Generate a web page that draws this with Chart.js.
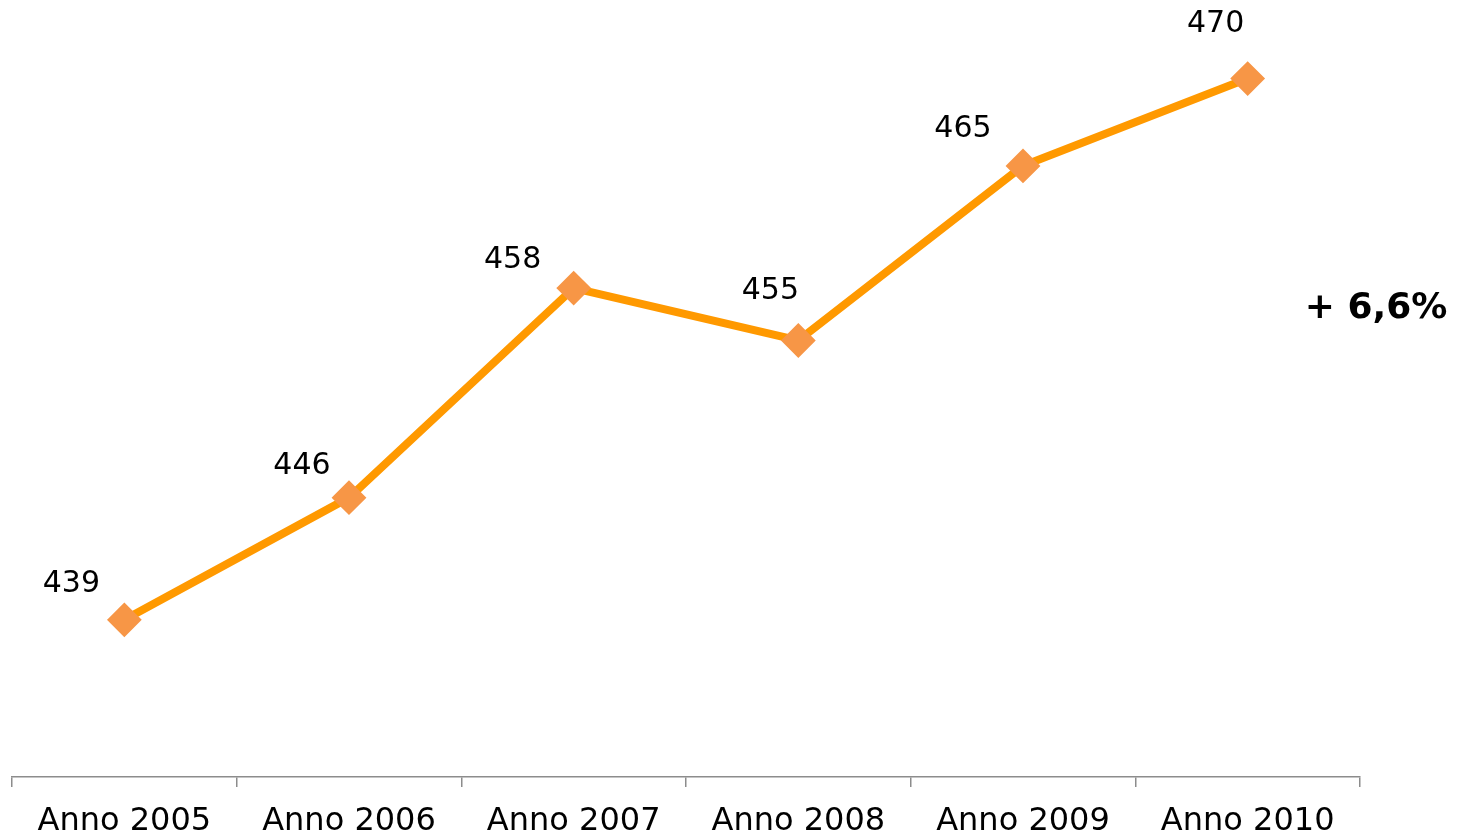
<!DOCTYPE html>
<html>
<head>
<meta charset="utf-8">
<script src="https://cdn.jsdelivr.net/npm/chart.js@4/dist/chart.umd.min.js"></script>
<style>
html,body{margin:0;padding:0;background:#fff;}
#wrap{width:1457px;height:835px;position:relative;}
</style>
</head>
<body>
<div id="wrap"><canvas id="c" width="1457" height="835"></canvas></div>
<script>
const categories = ["Anno 2005","Anno 2006","Anno 2007","Anno 2008","Anno 2009","Anno 2010"];
const values = [439, 446, 458, 455, 465, 470];
const growthLabel = "+ 6,6%";

// label offsets relative to each point (pixels), as placed in the original
const labelOffsets = [[-53,-36],[-47,-31],[-61,-28],[-28,-49],[-60,-37],[-32,-54]];

const labelPlugin = {
  id: 'pointLabels',
  afterDatasetsDraw(chart) {
    const ctx = chart.ctx;
    const meta = chart.getDatasetMeta(0);
    ctx.save();
    ctx.fillStyle = '#000';
    ctx.font = '30px "DejaVu Sans", Verdana, sans-serif';
    ctx.textAlign = 'center';
    ctx.textBaseline = 'middle';
    meta.data.forEach((pt, i) => {
      const o = labelOffsets[i];
      ctx.fillText(String(values[i]), pt.x + o[0], pt.y + o[1]);
    });
    ctx.font = 'bold 36px "DejaVu Sans", Verdana, sans-serif';
    ctx.fillText(growthLabel, 1376, 309);
    ctx.restore();
  }
};

new Chart(document.getElementById('c'), {
  type: 'line',
  data: {
    labels: categories,
    datasets: [{
      data: values,
      borderColor: '#FF9900',
      borderWidth: 8,
      tension: 0,
      clip: false,
      pointStyle: 'rectRot',
      pointRadius: 16,
      pointHoverRadius: 16,
      pointBackgroundColor: '#F79646',
      pointBorderColor: '#F79646',
      pointBorderWidth: 2
    }]
  },
  options: {
    responsive: false,
    animation: false,
    events: [],
    layout: { autoPadding: false, padding: { left: 12, right: 97, top: 0, bottom: -22 } },
    plugins: { legend: { display: false }, tooltip: { enabled: false } },
    scales: {
      x: {
        offset: true,
        border: { display: true, color: '#8c8c8c', width: 1.5 },
        grid: { display: true, offset: true, drawOnChartArea: false, drawTicks: true, tickLength: 10, color: '#8c8c8c', lineWidth: 1.5 },
        ticks: { color: '#000', font: { family: '"DejaVu Sans", Verdana, sans-serif', size: 32, lineHeight: 1 }, padding: 19, maxRotation: 0, autoSkip: false }
      },
      y: {
        display: false,
        min: 430,
        max: 474.5
      }
    }
  },
  plugins: [labelPlugin]
});
</script>
</body>
</html>
